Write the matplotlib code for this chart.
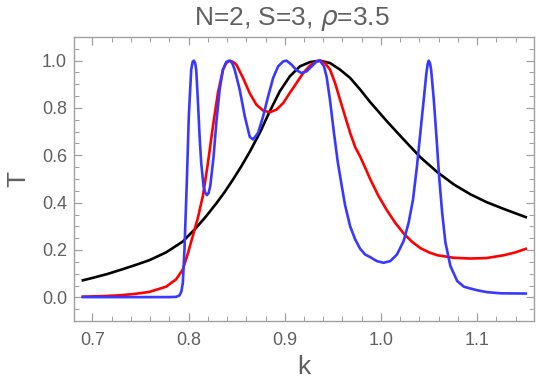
import matplotlib
matplotlib.use("Agg")
import matplotlib.pyplot as plt
from matplotlib.ticker import MultipleLocator, FormatStrFormatter

plt.rcParams['font.family'] = ['Liberation Sans', 'DejaVu Sans']

title = "N=2, S=3, $\\rho$=3.5"
xlabel = "k"
ylabel = "T"

k_black = [0.69, 0.70, 0.715, 0.73, 0.745, 0.7592, 0.7766, 0.794, 0.8079, 0.8183, 0.8288,
           0.8375, 0.8462, 0.855, 0.8636, 0.874, 0.8844, 0.8949, 0.9053, 0.9158, 0.9262,
           0.9366, 0.9471, 0.9575, 0.968, 0.9784, 0.9888, 1.0062, 1.0236, 1.041, 1.0584,
           1.0758, 1.0932, 1.11, 1.13, 1.1506]
T_black = [0.072, 0.082, 0.098, 0.117, 0.137, 0.157, 0.190, 0.236, 0.294, 0.343, 0.397,
           0.445, 0.498, 0.555, 0.615, 0.695, 0.786, 0.871, 0.934, 0.976, 0.994,
           1.0, 0.990, 0.962, 0.927, 0.878, 0.825, 0.744, 0.667, 0.592, 0.530,
           0.477, 0.435, 0.402, 0.370, 0.339]

k_red = [0.69, 0.71, 0.73, 0.745, 0.7592, 0.7766, 0.787, 0.794, 0.7992, 0.8044, 0.8096,
         0.8149, 0.8201, 0.8253, 0.8305, 0.8357, 0.8392, 0.8427, 0.8462, 0.8497, 0.8566,
         0.8636, 0.8705, 0.8775, 0.8844, 0.8914, 0.8984, 0.9053, 0.9123, 0.9192, 0.9262,
         0.9332, 0.9366, 0.9418, 0.9471, 0.9523, 0.9575, 0.9627, 0.968, 0.9732, 0.9784,
         0.9836, 0.9888, 0.9975, 1.0062, 1.0149, 1.0236, 1.0323, 1.041, 1.05, 1.0584,
         1.0758, 1.0932, 1.11, 1.128, 1.14, 1.1506]
T_red = [0.003, 0.005, 0.009, 0.015, 0.023, 0.045, 0.076, 0.118, 0.185, 0.260, 0.335,
         0.430, 0.568, 0.723, 0.864, 0.962, 0.990, 1.0, 0.995, 0.983, 0.927,
         0.862, 0.814, 0.789, 0.782, 0.793, 0.821, 0.864, 0.906, 0.948, 0.979,
         0.997, 1.0, 0.990, 0.962, 0.906, 0.835, 0.765, 0.695, 0.635, 0.595,
         0.548, 0.500, 0.428, 0.368, 0.315, 0.270, 0.235, 0.208, 0.190, 0.178,
         0.167, 0.164, 0.166, 0.178, 0.190, 0.205]

k_blue = [0.69, 0.72, 0.75, 0.77, 0.78, 0.787, 0.7905, 0.7925, 0.794, 0.7957, 0.7981,
          0.8002, 0.8027, 0.8042, 0.8055, 0.8068, 0.8079, 0.8096, 0.8114, 0.8131, 0.8155,
          0.8172, 0.819, 0.8207, 0.8225, 0.826, 0.8288, 0.8323, 0.8357, 0.8392, 0.8427,
          0.8453, 0.8479, 0.8531, 0.8584, 0.8636, 0.867, 0.8723, 0.8775, 0.8827, 0.8879,
          0.8931, 0.8984, 0.9018, 0.9071, 0.9123, 0.9175, 0.9227, 0.928, 0.9332, 0.9366,
          0.9408, 0.9436, 0.947, 0.951, 0.955, 0.9587, 0.9627, 0.968, 0.9732, 0.9784,
          0.9836, 0.9888, 0.9958, 1.0027, 1.0097, 1.0167, 1.0236, 1.0288, 1.0334, 1.0375,
          1.041, 1.0445, 1.0473, 1.0487, 1.0497, 1.051, 1.0522, 1.055, 1.0577, 1.0605,
          1.0637, 1.0671, 1.0723, 1.0793, 1.0863, 1.0932, 1.10, 1.11, 1.125, 1.1506]
T_blue = [0.001, 0.001, 0.001, 0.001, 0.001, 0.002, 0.008, 0.025, 0.062, 0.203, 0.484,
          0.765, 0.962, 0.995, 1.0, 0.990, 0.962, 0.835, 0.681, 0.568, 0.470,
          0.443, 0.432, 0.440, 0.470, 0.596, 0.737, 0.878, 0.962, 0.995, 1.0,
          0.990, 0.962, 0.878, 0.765, 0.678, 0.667, 0.695, 0.765, 0.849, 0.927,
          0.976, 0.997, 1.0, 0.983, 0.959, 0.948, 0.955, 0.976, 0.997, 1.0,
          0.976, 0.930, 0.835, 0.700, 0.575, 0.484, 0.390, 0.300, 0.245, 0.205,
          0.181, 0.170, 0.153, 0.146, 0.153, 0.181, 0.238, 0.315, 0.414, 0.554,
          0.695, 0.835, 0.948, 0.988, 1.0, 0.990, 0.962, 0.835, 0.681, 0.512,
          0.357, 0.231, 0.132, 0.069, 0.045, 0.037, 0.030, 0.022, 0.017, 0.016]

fig = plt.figure(figsize=(5.4, 3.9), dpi=100)
ax = fig.add_axes([74/540, 1 - 321/390, (534-74)/540, (321-37)/390])

lw = 1.9
ax.plot(k_black, T_black, color='black', lw=lw, solid_joinstyle='round')
ax.plot(k_red, T_red, color='#ff0000', lw=lw, solid_joinstyle='round')
ax.plot(k_blue, T_blue, color='#3838ff', lw=lw, solid_joinstyle='round')

ax.set_xlim(0.6808, 1.1592)
ax.set_ylim(-0.1, 1.1)
ax.xaxis.set_major_locator(MultipleLocator(0.1))
ax.xaxis.set_minor_locator(MultipleLocator(0.02))
ax.yaxis.set_major_locator(MultipleLocator(0.2))
ax.yaxis.set_minor_locator(MultipleLocator(0.05))
ax.xaxis.set_major_formatter(FormatStrFormatter('%.1f'))
ax.yaxis.set_major_formatter(FormatStrFormatter('%.1f'))

frame_col = '#a0a0a0'
text_col = '#606060'
for s in ax.spines.values():
    s.set_color(frame_col)
    s.set_linewidth(1.0)
ax.tick_params(which='both', direction='in', top=True, right=True, color=frame_col,
               labelcolor=text_col, labelsize=13)
ax.tick_params(which='major', length=6, width=0.9)
ax.tick_params(which='minor', length=3.5, width=0.7)
ax.tick_params(axis='x', pad=8)
ax.tick_params(axis='y', pad=5)

ax.set_xlabel(xlabel, fontsize=19, color=text_col, labelpad=4)
ax.set_ylabel(ylabel, fontsize=19, color=text_col, labelpad=8)
fig.text(292/540, 1 - 25/390, title, fontsize=19, color=text_col, ha='center', va='baseline')

fig.savefig('out.png', dpi=100)
